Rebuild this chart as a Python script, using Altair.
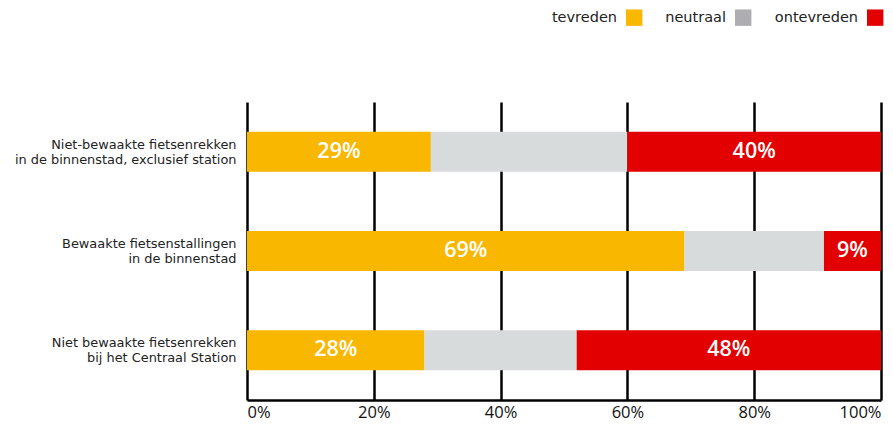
import altair as alt
import pandas as pd

categories = [
    "Niet-bewaakte fietsenrekken|in de binnenstad, exclusief station",
    "Bewaakte fietsenstallingen|in de binnenstad",
    "Niet bewaakte fietsenrekken|bij het Centraal Station",
]
responses = ["tevreden", "neutraal", "ontevreden"]
tevreden = [29, 69, 28]
neutraal = [31, 22, 24]
ontevreden = [40, 9, 48]
bar_colors = ["#f9b700", "#d8dbdb", "#e30000"]
legend_colors = ["#f9b700", "#aeaeb2", "#e30000"]
tick_values = [0, 20, 40, 60, 80, 100]

# square swatch drawn to the right of its label (unit coords, scaled by sqrt(size)/2)
swatch_path = "M 2.134 -1 H 4.134 V 1 H 2.134 Z"

rows = []
series = [tevreden, neutraal, ontevreden]
for i, cat in enumerate(categories):
    for j, resp in enumerate(responses):
        rows.append({"categorie": cat, "oordeel": resp, "orde": j, "waarde": series[j][i]})
df = pd.DataFrame(rows)

base = alt.Chart(df).transform_stack(
    stack="waarde",
    groupby=["categorie"],
    as_=["x0", "x1"],
    sort=[alt.SortField("orde", order="ascending")],
).transform_calculate(mid="(datum.x0 + datum.x1) / 2", lbl="datum.waarde + '%'")

x_scale = alt.Scale(domain=[0, 100], nice=False)

y_enc = alt.Y(
    "categorie:N",
    sort=categories,
    title=None,
    axis=alt.Axis(
        labelExpr="split(datum.label, '|')",
        labelFont="DejaVu Sans",
        labelFontSize=12.9,
        labelColor="#222222",
        labelLineHeight=15,
        labelOffset=-7,
        labelPadding=11,
        domain=False,
        ticks=False,
        grid=False,
        labelLimit=400,
    ),
)

x_enc = alt.X(
    "x0:Q",
    scale=x_scale,
    title=None,
    axis=alt.Axis(
        values=tick_values,
        labelExpr="datum.value + '%'",
        labelFont="Open Sans",
        labelFontSize=16.5,
        labelColor="#111111",
        labelFlush=True,
        labelPadding=4,
        ticks=False,
        domain=True,
        domainColor="#000000",
        domainWidth=2.5,
        grid=True,
        gridColor="#000000",
        gridWidth=2.5,
        gridOpacity=1,
    ),
)

# invisible layer that only carries the legend (with its own swatch colours)
legend_layer = base.mark_bar(size=40, opacity=0).encode(
    x=x_enc,
    x2="x1:Q",
    y=y_enc,
    fill=alt.Fill(
        "oordeel:N",
        scale=alt.Scale(domain=responses, range=legend_colors),
        legend=alt.Legend(
            title=None,
            orient="none",
            legendX=353,
            legendY=-93,
            direction="horizontal",
            symbolType=swatch_path,
            symbolSize=269,
            symbolStrokeWidth=0,
            symbolOpacity=1,
            labelOffset=0,
            labelAlign="right",
            labelFont="DejaVu Sans",
            labelFontSize=14.5,
            labelColor="#222222",
            columnPadding=22,
            padding=0,
        ),
    ),
)

bars = base.mark_bar(size=40).encode(
    x=x_enc,
    x2="x1:Q",
    y=y_enc,
    color=alt.Color(
        "oordeel:N",
        scale=alt.Scale(domain=responses, range=bar_colors),
        legend=None,
    ),
    order=alt.Order("orde:Q"),
)

labels = base.transform_filter(f"datum.oordeel != '{responses[1]}'").mark_text(
    color="white",
    font="Open Sans",
    fontSize=21.5,
    fontWeight=600,
    align="center",
    baseline="middle",
).encode(
    x=alt.X("mid:Q"),
    y=alt.Y("categorie:N", sort=categories),
    text="lbl:N",
)

chart = (
    alt.layer(legend_layer, bars, labels)
    .properties(
        width=634,
        height=298,
        padding={"left": 239, "top": 94, "right": 4, "bottom": 21},
        autosize=alt.AutoSizeParams(type="none"),
        background="white",
    )
    .configure_view(stroke=None)
)

chart.save("out.html", embed_options={"renderer": "svg", "actions": False})
